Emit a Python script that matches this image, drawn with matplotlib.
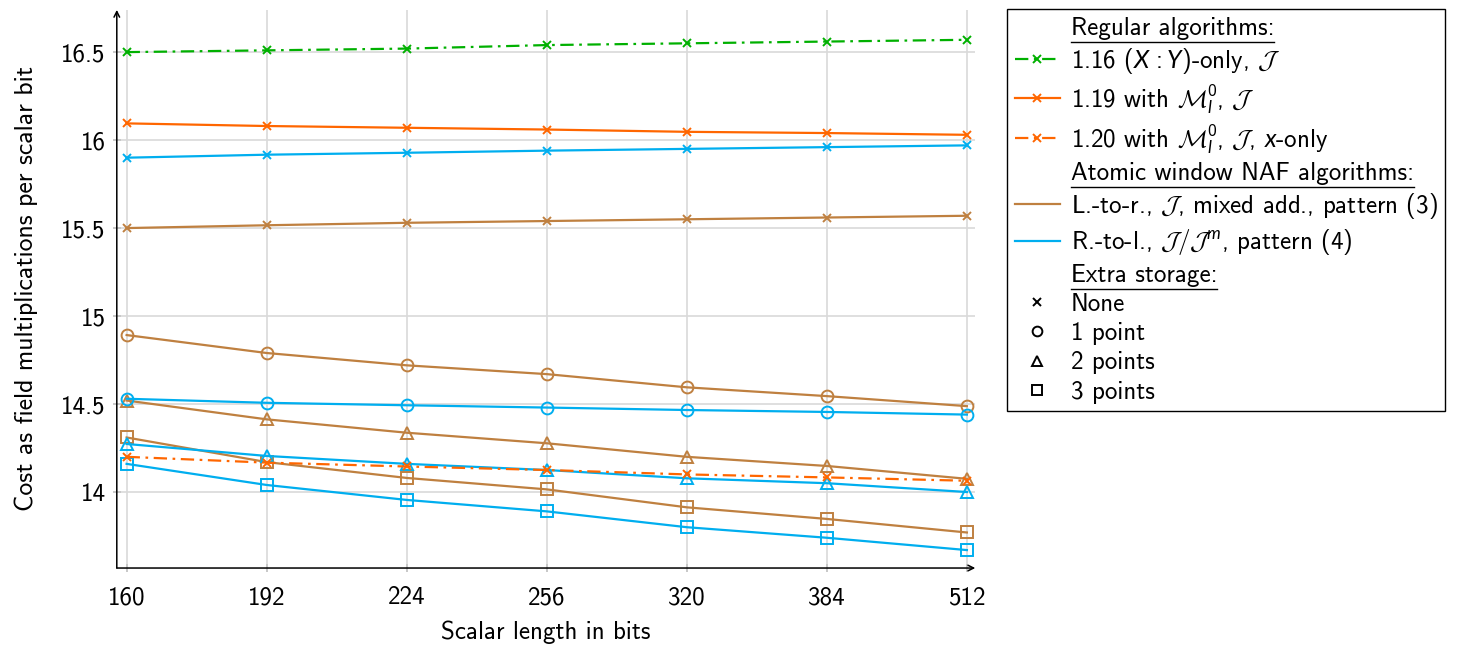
import matplotlib

matplotlib.use("Agg")
import matplotlib.pyplot as plt
from matplotlib.lines import Line2D

plt.rcParams["font.family"] = ["cmss10", "DejaVu Sans"]
plt.rcParams["axes.unicode_minus"] = False
plt.rcParams["mathtext.fontset"] = "custom"
plt.rcParams["mathtext.rm"] = "cmss10"
plt.rcParams["mathtext.it"] = "Lato:italic"
plt.rcParams["mathtext.cal"] = "cmsy10"

# scalar lengths (categorical x)
bits = ["160", "192", "224", "256", "320", "384", "512"]

# regular algorithms
reg_116_xy = [16.50, 16.51, 16.52, 16.54, 16.55, 16.56, 16.57]
reg_119_m0 = [16.095, 16.08, 16.07, 16.06, 16.047, 16.04, 16.03]
reg_120_xonly = [14.20, 14.167, 14.145, 14.125, 14.10, 14.083, 14.064]

# atomic window NAF, left-to-right (brown)
ltr_none = [15.50, 15.516, 15.53, 15.54, 15.55, 15.56, 15.57]
ltr_1pt = [14.892, 14.79, 14.72, 14.67, 14.595, 14.545, 14.488]
ltr_2pt = [14.52, 14.413, 14.337, 14.277, 14.20, 14.148, 14.075]
ltr_3pt = [14.31, 14.17, 14.08, 14.015, 13.913, 13.847, 13.77]

# atomic window NAF, right-to-left (blue)
rtl_none = [15.90, 15.917, 15.928, 15.94, 15.95, 15.96, 15.97]
rtl_1pt = [14.53, 14.507, 14.493, 14.48, 14.466, 14.455, 14.44]
rtl_2pt = [14.273, 14.205, 14.16, 14.125, 14.078, 14.05, 14.00]
rtl_3pt = [14.16, 14.04, 13.955, 13.89, 13.80, 13.74, 13.67]

green = "#00B000"
orange = "#FF6600"
brown = "#BF8040"
blue = "#00AEEF"
dashdot = (0, (6, 2.5, 1.2, 2.5))

fig = plt.figure(figsize=(14.6, 6.46), dpi=100)
ax = fig.add_axes([0.080, 0.1207, 0.588, 0.864])

mk = dict(markerfacecolor="none", markeredgewidth=1.4)
lw = 1.6

ax.plot(bits, reg_116_xy, color=green, ls=dashdot, lw=lw, marker="x", ms=6, **mk)
ax.plot(bits, reg_119_m0, color=orange, ls="-", lw=lw, marker="x", ms=6, **mk)

ax.plot(bits, ltr_none, color=brown, lw=lw, marker="x", ms=6, **mk)
ax.plot(bits, ltr_1pt, color=brown, lw=lw, marker="o", ms=8.5, **mk)
ax.plot(bits, ltr_2pt, color=brown, lw=lw, marker="^", ms=8, **mk)
ax.plot(bits, ltr_3pt, color=brown, lw=lw, marker="s", ms=8, **mk)

ax.plot(bits, rtl_none, color=blue, lw=lw, marker="x", ms=6, **mk)
ax.plot(bits, rtl_1pt, color=blue, lw=lw, marker="o", ms=8.5, **mk)
ax.plot(bits, rtl_2pt, color=blue, lw=lw, marker="^", ms=8, **mk)
ax.plot(bits, rtl_3pt, color=blue, lw=lw, marker="s", ms=8, **mk)

ax.plot(bits, reg_120_xonly, color=orange, ls=dashdot, lw=lw, marker="x", ms=6, **mk)

ax.set_xlim(-0.07, 6.06)
ax.set_ylim(13.568, 16.74)
ax.set_yticks([14, 14.5, 15, 15.5, 16, 16.5])
ax.set_yticklabels(["14", "14.5", "15", "15.5", "16", "16.5"])
ax.tick_params(labelsize=18, direction="inout", length=6, width=1.4, color="#C8C8C8", pad=5)
ax.tick_params(axis="x", pad=10)
ax.grid(True, color="#D9D9D9", lw=1.2)
ax.set_axisbelow(True)
for sp in ax.spines.values():
    sp.set_visible(False)

ax.annotate("", xy=(1.0, 0), xytext=(0, 0), xycoords="axes fraction",
            arrowprops=dict(arrowstyle="->,head_length=0.4,head_width=0.2", lw=1.1, color="black",
                            shrinkA=0, shrinkB=0))
ax.annotate("", xy=(0, 1.0), xytext=(0, 0), xycoords="axes fraction",
            arrowprops=dict(arrowstyle="->,head_length=0.4,head_width=0.2", lw=1.1, color="black",
                            shrinkA=0, shrinkB=0))

ax.set_xlabel("Scalar length in bits", fontsize=18, labelpad=8)
ax.set_ylabel("Cost as field multiplications per scalar bit", fontsize=18.5, labelpad=17)

blank = Line2D([], [], color="none")
handles = [
    blank,
    Line2D([], [], color=green, ls=dashdot, lw=lw, marker="x", ms=6, **mk),
    Line2D([], [], color=orange, ls="-", lw=lw, marker="x", ms=6, **mk),
    Line2D([], [], color=orange, ls=dashdot, lw=lw, marker="x", ms=6, **mk),
    blank,
    Line2D([], [], color=brown, lw=lw),
    Line2D([], [], color=blue, lw=lw),
    blank,
    Line2D([], [], color="black", ls="none", marker="x", ms=5.5, **mk),
    Line2D([], [], color="black", ls="none", marker="o", ms=7, **mk),
    Line2D([], [], color="black", ls="none", marker="^", ms=7, **mk),
    Line2D([], [], color="black", ls="none", marker="s", ms=7, **mk),
]
labels = [
    "Regular algorithms:",
    r"1.16 $(X\,{:}Y)$-only, $\mathcal{J}$",
    r"1.19 with $\mathcal{M}_l^0$, $\mathcal{J}$",
    r"1.20 with $\mathcal{M}_l^0$, $\mathcal{J}$, $x$-only",
    "Atomic window NAF algorithms:",
    r"L.-to-r., $\mathcal{J}$, mixed add., pattern (3)",
    r"R.-to-l., $\mathcal{J}/\mathcal{J}^m$, pattern (4)",
    "Extra storage:",
    "None",
    "1 point",
    "2 points",
    "3 points",
]
leg = fig.legend(handles, labels, loc="upper left", bbox_to_anchor=(1007 / 1460, 1 - 9 / 646),
                 fontsize=18, frameon=True, fancybox=False, edgecolor="black", framealpha=1,
                 handlelength=1.8, handletextpad=0.45, borderpad=0.3, labelspacing=0.25,
                 borderaxespad=0, numpoints=1)
leg.get_frame().set_linewidth(1.0)

# underline the group headings
fig.canvas.draw()
inv = fig.transFigure.inverted()
for t in leg.get_texts():
    if t.get_text().endswith(":"):
        bb = t.get_window_extent()
        (x0, y0), (x1, _) = inv.transform([(bb.x0, bb.y0 - 2), (bb.x1, bb.y0 - 2)])
        fig.add_artist(Line2D([x0, x1], [y0, y0], color="black", lw=1.0,
                              transform=fig.transFigure, zorder=10))

fig.savefig("out.png", dpi=100)
